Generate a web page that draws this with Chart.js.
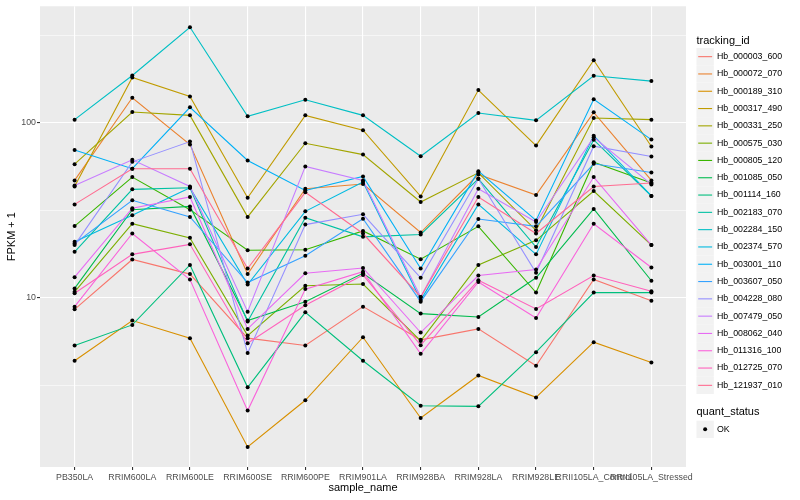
<!DOCTYPE html>
<html>
<head>
<meta charset="utf-8">
<script src="https://cdn.jsdelivr.net/npm/chart.js@4.4.1/dist/chart.umd.min.js"></script>
<style>
  html, body { margin: 0; padding: 0; background: #fff; }
</style>
</head>
<body>
<canvas id="fpkmChart" width="800" height="500"></canvas>
<script>
// categories on the x axis
const sampleNames = ['PB350LA', 'RRIM600LA', 'RRIM600LE', 'RRIM600SE', 'RRIM600PE', 'RRIM901LA',
    'RRIM928BA', 'RRIM928LA', 'RRIM928LE', 'RRII105LA_Control', 'RRII105LA_Stressed'];

const trackingIds = ['Hb_000003_600', 'Hb_000072_070', 'Hb_000189_310', 'Hb_000317_490', 'Hb_000331_250',
    'Hb_000575_030', 'Hb_000805_120', 'Hb_001085_050', 'Hb_001114_160', 'Hb_002183_070',
    'Hb_002284_150', 'Hb_002374_570', 'Hb_003001_110', 'Hb_003607_050', 'Hb_004228_080',
    'Hb_007479_050', 'Hb_008062_040', 'Hb_011316_100', 'Hb_012725_070', 'Hb_121937_010'];

// ggplot default hue palette, 20 levels
const lineColors = ['#F8766D', '#EA8331', '#D89000', '#C09B00', '#A3A500', '#7CAE00', '#39B600', '#00BB4E',
    '#00BF7D', '#00C1A3', '#00BFC4', '#00BAE0', '#00B0F6', '#35A2FF', '#9590FF', '#C77CFF',
    '#E76BF3', '#FA62DB', '#FF62BC', '#FF6C91'];

// FPKM + 1 per sample, one array per gene
const hb000003600 = [8.58, 16.55, 13.65, 5.87, 5.33, 8.89, 5.74, 6.63, 4.08, 12.73, 9.62];
const hb000072070 = [46.9, 139.4, 75.2, 13.65, 42.0, 44.7, 23.6, 50.7, 38.7, 115.0, 46.9];
const hb000189310 = [4.36, 7.40, 5.87, 1.40, 2.59, 5.94, 2.05, 3.59, 2.69, 5.57, 4.26];
const hb000317490 = [43.3, 182.0, 141.8, 37.3, 110.5, 90.8, 38.0, 154.2, 74.2, 228.6, 73.3];
const hb000331250 = [58.1, 115.5, 110.5, 29.0, 76.5, 65.9, 35.3, 51.8, 24.3, 106.7, 104.4];
const hb000575030 = [10.8, 26.5, 22.0, 6.07, 11.7, 11.97, 5.66, 15.4, 21.3, 40.8, 20.0];
const hb000805120 = [25.7, 49.0, 31.9, 18.7, 18.8, 24.1, 16.6, 25.6, 10.7, 59.6, 45.3];
const hb001085050 = [11.3, 31.9, 33.3, 7.40, 9.49, 13.8, 8.11, 7.76, 13.0, 32.2, 12.5];
const hb001114160 = [5.33, 6.99, 15.4, 3.07, 8.25, 4.36, 2.41, 2.39, 4.88, 10.7, 10.7];
const hb002183070 = [18.3, 41.7, 42.6, 7.30, 28.7, 22.3, 23.0, 47.9, 19.5, 80.0, 38.2];
const hb002284150 = [104.4, 186.9, 352.5, 109.1, 135.8, 110.5, 64.5, 114.0, 103.5, 186.1, 173.5];
const hb002374570 = [20.9, 29.6, 42.6, 11.9, 31.2, 45.9, 9.70, 34.2, 17.7, 84.6, 38.2];
const hb003001110 = [70.1, 54.7, 122.8, 61.0, 41.1, 49.4, 14.7, 53.0, 27.7, 136.4, 80.3];
const hb003607050 = [20.4, 36.1, 29.0, 12.2, 17.4, 28.3, 9.49, 28.2, 25.6, 58.4, 52.1];
const hb004228080 = [20.0, 59.9, 78.2, 4.82, 26.2, 30.0, 13.0, 47.9, 13.9, 73.6, 64.2];
const hb007479050 = [43.9, 61.5, 43.3, 8.32, 56.4, 46.9, 10.1, 42.0, 27.1, 82.8, 44.5];
const hb008062040 = [13.1, 32.5, 37.7, 6.63, 13.8, 14.8, 6.32, 13.4, 14.5, 49.0, 20.0];
const hb011316100 = [8.89, 23.3, 12.7, 2.26, 11.2, 14.1, 4.78, 12.3, 7.66, 26.5, 14.9];
const hb012725070 = [10.6, 17.7, 20.2, 5.49, 9.05, 13.5, 5.35, 12.6, 8.62, 13.4, 10.9];
const hb121937010 = [34.2, 54.7, 54.7, 14.7, 40.1, 23.3, 10.1, 37.7, 23.3, 43.3, 45.3];

const seriesValues = [hb000003600, hb000072070, hb000189310, hb000317490, hb000331250, hb000575030,
    hb000805120, hb001085050, hb001114160, hb002183070, hb002284150, hb002374570, hb003001110,
    hb003607050, hb004228080, hb007479050, hb008062040, hb011316100, hb012725070, hb121937010];

// y axis: labelled breaks and the minor grid in between
const yMajorTicks = [10, 100];
const yMinorTicks = [3.1623, 31.623, 316.23];

const fontFamily = "'Liberation Sans', Arial, Helvetica, sans-serif";

const lineDatasets = seriesValues.map((values, i) => ({
    type: 'line',
    label: trackingIds[i],
    data: values.map((v, j) => ({ x: j, y: v })),
    borderColor: lineColors[i],
    borderWidth: 1.1,
    pointRadius: 0,
    tension: 0,
    fill: false,
    order: seriesValues.length - i
}));

// all points drawn on top of the lines, like geom_point after geom_line
const pointDataset = {
    type: 'scatter',
    label: 'OK',
    data: seriesValues.flatMap(values => values.map((v, j) => ({ x: j, y: v }))),
    pointRadius: 2,
    pointBackgroundColor: '#000',
    pointBorderWidth: 0,
    showLine: false,
    order: 0
};

const panelBackground = {
    id: 'panelBackground',
    beforeDraw(chart) {
        const { ctx, chartArea } = chart;
        ctx.save();
        ctx.fillStyle = '#EBEBEB';
        ctx.fillRect(chartArea.left, chartArea.top, chartArea.right - chartArea.left, chartArea.bottom - chartArea.top);
        ctx.restore();
    }
};

const ggLegend = {
    id: 'ggLegend',
    afterDraw(chart) {
        const ctx = chart.ctx;
        const x0 = 696.5;
        const keySize = 17.3;
        ctx.save();
        ctx.textBaseline = 'middle';
        ctx.textAlign = 'left';

        ctx.fillStyle = '#000';
        ctx.font = '11px ' + fontFamily;
        ctx.fillText('tracking_id', x0, 40.7);

        ctx.font = '8.8px ' + fontFamily;
        trackingIds.forEach((id, i) => {
            const top = 48 + i * keySize;
            const cy = top + keySize / 2;
            ctx.fillStyle = '#F2F2F2';
            ctx.fillRect(x0, top, keySize, keySize);
            ctx.strokeStyle = lineColors[i];
            ctx.lineWidth = 1.1;
            ctx.beginPath();
            ctx.moveTo(x0 + 1.7, cy);
            ctx.lineTo(x0 + keySize - 1.7, cy);
            ctx.stroke();
            ctx.fillStyle = '#000';
            ctx.fillText(id, 717, cy);
        });

        ctx.font = '11px ' + fontFamily;
        ctx.fillText('quant_status', x0, 412.3);
        const okTop = 420.7;
        ctx.fillStyle = '#F2F2F2';
        ctx.fillRect(x0, okTop, keySize, keySize);
        ctx.fillStyle = '#000';
        ctx.beginPath();
        ctx.arc(x0 + keySize / 2, okTop + keySize / 2, 2, 0, Math.PI * 2);
        ctx.fill();
        ctx.font = '8.8px ' + fontFamily;
        ctx.fillText('OK', 717, okTop + keySize / 2);
        ctx.restore();
    }
};

new Chart(document.getElementById('fpkmChart'), {
    data: { datasets: [pointDataset, ...lineDatasets] },
    options: {
        responsive: false,
        animation: false,
        layout: { padding: { left: 0, top: 5, right: 114, bottom: 0 } },
        plugins: {
            legend: { display: false },
            tooltip: { enabled: false }
        },
        scales: {
            x: {
                type: 'linear',
                min: -0.6,
                max: 10.6,
                afterBuildTicks: scale => {
                    scale.ticks = sampleNames.map((_, i) => ({ value: i }));
                },
                afterFit: scale => { scale.height = 33; },
                ticks: {
                    callback: v => sampleNames[v],
                    autoSkip: false,
                    maxRotation: 0,
                    minRotation: 0,
                    padding: 2,
                    color: '#4D4D4D',
                    font: { family: fontFamily, size: 8.8 }
                },
                grid: { color: '#FFFFFF', lineWidth: 1.1, tickLength: 3, tickColor: '#333333', tickWidth: 1.1 },
                border: { display: false },
                title: {
                    display: true,
                    text: 'sample_name',
                    color: '#000',
                    font: { family: fontFamily, size: 11 },
                    padding: { top: 0, bottom: 5 }
                }
            },
            y: {
                type: 'logarithmic',
                min: 1.075,
                max: 465,
                afterBuildTicks: scale => {
                    scale.ticks = [...yMinorTicks, ...yMajorTicks].sort((a, b) => a - b).map(v => ({ value: v }));
                },
                afterFit: scale => { scale.width = 40; },
                ticks: {
                    callback: v => yMajorTicks.includes(v) ? String(v) : '',
                    autoSkip: false,
                    padding: 1,
                    color: '#4D4D4D',
                    font: { family: fontFamily, size: 8.8 }
                },
                grid: {
                    color: '#FFFFFF',
                    lineWidth: ctx => yMajorTicks.includes(ctx.tick.value) ? 1.1 : 0.55,
                    tickLength: 3,
                    tickWidth: 1.1,
                    tickColor: ctx => yMajorTicks.includes(ctx.tick.value) ? '#333333' : 'rgba(0,0,0,0)'
                },
                border: { display: false },
                title: {
                    display: true,
                    text: 'FPKM + 1',
                    color: '#000',
                    font: { family: fontFamily, size: 11 },
                    padding: { top: 5.4, bottom: 0 }
                }
            }
        }
    },
    plugins: [panelBackground, ggLegend]
});
</script>
</body>
</html>
